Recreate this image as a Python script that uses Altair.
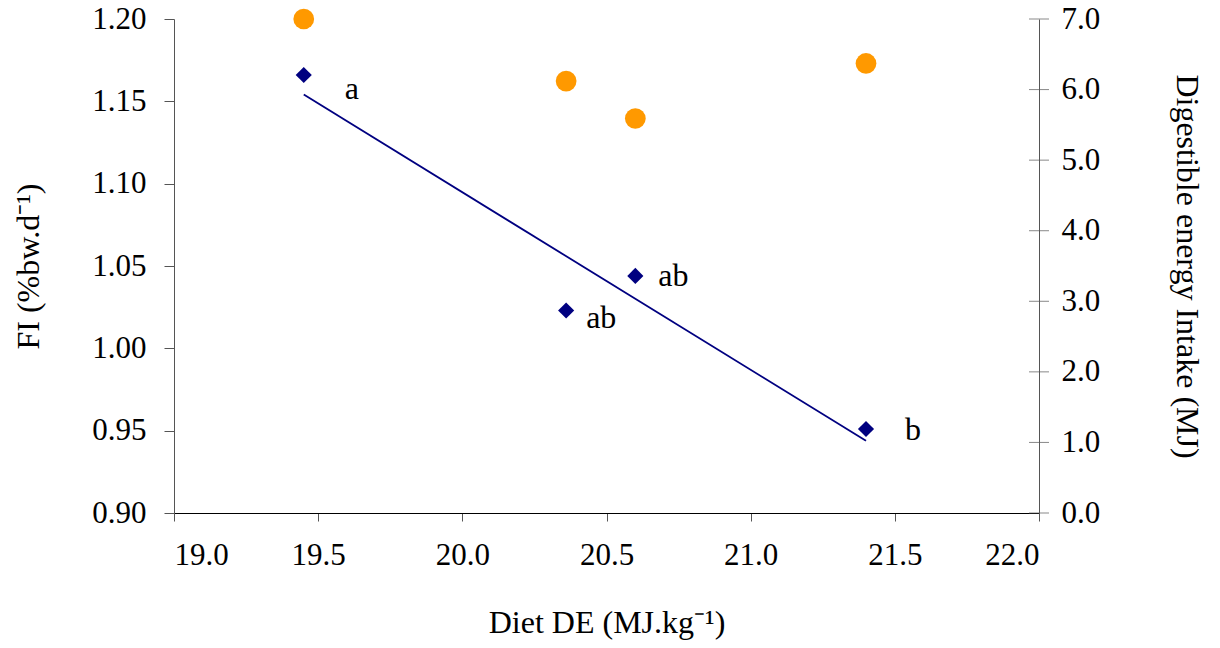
import altair as alt
import pandas as pd

# ---- data ----
diet_de = [19.45, 20.36, 20.60, 21.40]
fi = [1.166, 1.023, 1.044, 0.951]
de_intake = [7.00, 6.12, 5.59, 6.37]
sig_labels = ["a", "ab", "ab", "b"]
x_ticks = [19.0, 19.5, 20.0, 20.5, 21.0, 21.5, 22.0]
left_ticks = [0.90, 0.95, 1.00, 1.05, 1.10, 1.15, 1.20]
right_ticks = [0.0, 1.0, 2.0, 3.0, 4.0, 5.0, 6.0, 7.0]

# ---- style ----
FONT = "Liberation Serif"
FS_LABEL = 31
FS_TITLE = 32
FS_TEXT = 32
NAVY = "#000080"
ORANGE = "#FF9900"
AXIS_GREY = "#555555"
LABEL_OFFSETS = [(41, 14), (20, 8), (23, 0), (39, 1)]

df = pd.DataFrame({"de": diet_de, "fi": fi, "dei": de_intake, "lab": sig_labels})
rt = pd.DataFrame({"v": right_ticks})

x_enc = alt.X(
    "de:Q",
    scale=alt.Scale(domain=[19.0, 22.0], nice=False, zero=False),
    axis=alt.Axis(
        values=x_ticks, format=".1f", title="Diet DE (MJ.kg⁻¹)",
        grid=False, tickSize=8, labelPadding=19, titlePadding=37,
        domainColor="black", tickColor=AXIS_GREY,
    ),
)

y_left = alt.Y(
    "fi:Q",
    scale=alt.Scale(domain=[0.90, 1.20], nice=False, zero=False),
    axis=alt.Axis(
        values=left_ticks, format=".2f", title="FI (%bw.d⁻¹)",
        grid=False, tickSize=10, labelPadding=18, titlePadding=46,
        domainColor=AXIS_GREY, tickColor=AXIS_GREY,
    ),
)

right_axis = alt.Axis(
    values=right_ticks, format=".1f", title="Digestible energy Intake (MJ)",
    orient="right", grid=False, ticks=False, labelPadding=22, titlePadding=70,
    domainColor=AXIS_GREY,
)
right_scale = alt.Scale(domain=[0.0, 7.0], nice=False, zero=True)

base = alt.Chart(df)

line = base.mark_line(color=NAVY, strokeWidth=1.8).transform_regression(
    "de", "fi"
).encode(x=x_enc, y=y_left)

diamonds = base.mark_point(
    shape="diamond", filled=True, color=NAVY, size=260, opacity=1
).encode(x=x_enc, y=y_left)

label_layers = []
for i, (dx, dy) in enumerate(LABEL_OFFSETS):
    label_layers.append(
        alt.Chart(df.iloc[[i]]).mark_text(
            align="left", baseline="middle", dx=dx, dy=dy,
            font=FONT, fontSize=FS_TEXT, color="black",
        ).encode(x=x_enc, y=y_left, text="lab:N")
    )

left = alt.layer(line, diamonds, *label_layers)

circles = base.mark_point(
    shape="circle", filled=True, color=ORANGE, size=430, opacity=1
).encode(
    x=x_enc,
    y=alt.Y("dei:Q", scale=right_scale, axis=right_axis),
)

rticks = alt.Chart(rt).mark_tick(
    orient="horizontal", size=20, thickness=1, color=AXIS_GREY
).encode(
    x=alt.datum(22.0),
    y=alt.Y("v:Q", scale=right_scale, axis=right_axis),
)

right = alt.layer(circles, rticks)

chart = (
    alt.layer(left, right)
    .resolve_scale(y="independent")
    .properties(
        width=865, height=494,
        autosize=alt.AutoSizeParams(type="none"),
        padding={"left": 166, "top": 11, "right": 172, "bottom": 133},
        background="white",
    )
    .configure_view(stroke=None)
    .configure_axis(
        labelFont=FONT, titleFont=FONT, labelFontSize=FS_LABEL,
        titleFontSize=FS_TITLE,
        labelColor="black", titleColor="black", titleFontWeight="normal",
        domainWidth=1, tickWidth=1,
    )
)

chart.save("out.html", embed_options={"renderer": "svg", "actions": False})
